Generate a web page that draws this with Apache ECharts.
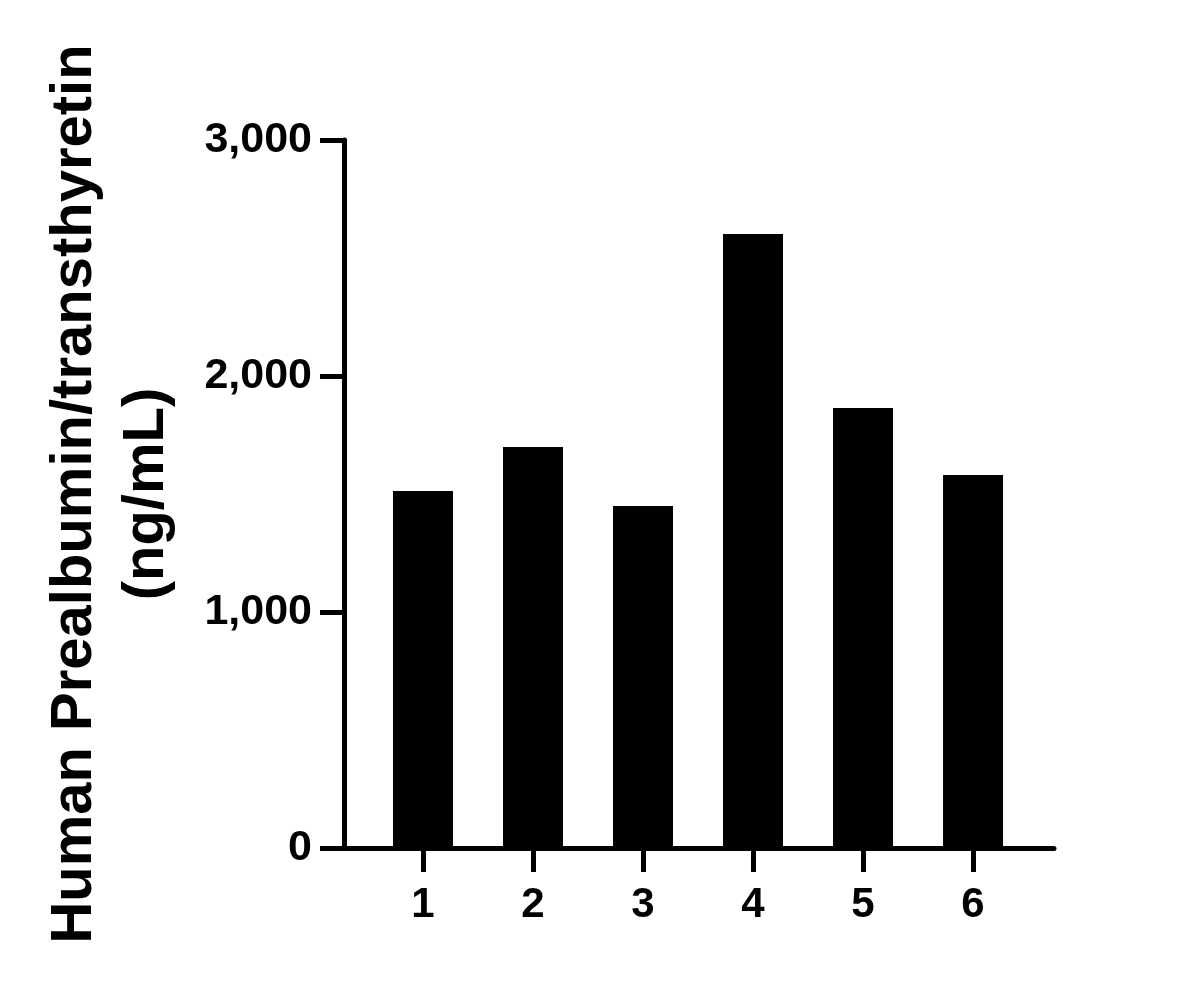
<!DOCTYPE html>
<html>
<head>
<meta charset="utf-8">
<script src="https://cdn.jsdelivr.net/npm/echarts@6/dist/echarts.min.js"></script>
<style>html,body{margin:0;padding:0;background:#fff}#c{width:1186px;height:986px}</style>
</head>
<body>
<div id="c"></div>
<script>
var categories = [1, 2, 3, 4, 5, 6];
var values = [1513, 1699, 1449, 2602, 1864, 1580];
var yTicks = [0, 1000, 2000, 3000];

var chart = echarts.init(document.getElementById('c'));
var font = 'Liberation Sans, Arial, sans-serif';
chart.setOption({
  animation: false,
  grid: { left: 344, right: 132, top: 140, bottom: 138, containLabel: false },
  xAxis: {
    type: 'value',
    min: 0.282,
    max: 6.736,
    splitLine: { show: false },
    axisLine: { show: true, lineStyle: { color: '#000', width: 5 } },
    axisTick: { show: true, length: 24, lineStyle: { color: '#000', width: 5 }, customValues: categories },
    axisLabel: { show: true, customValues: categories, color: '#000', fontSize: 42, fontWeight: 'bold', fontFamily: font, margin: 36 }
  },
  yAxis: {
    type: 'value',
    min: 0,
    max: 3000,
    interval: 1000,
    splitLine: { show: false },
    axisLine: { show: true, lineStyle: { color: '#000', width: 5 } },
    axisTick: { show: true, length: 24, lineStyle: { color: '#000', width: 5 } },
    axisLabel: {
      color: '#000', fontSize: 43, fontWeight: 'bold', fontFamily: font, margin: 32,
      formatter: function (v) { return v.toLocaleString('en-US'); }
    },
    name: 'Human Prealbumin/transthyretin\n(ng/mL)',
    nameLocation: 'middle',
    nameGap: 161,
    nameTextStyle: { color: '#000', fontSize: 58, fontWeight: 'bold', fontFamily: font, lineHeight: 72 }
  },
  series: [{
    type: 'bar',
    barWidth: 60,
    itemStyle: { color: '#000' },
    data: categories.map(function (c, i) { return [c, values[i]]; })
  }]
});
</script>
</body>
</html>
